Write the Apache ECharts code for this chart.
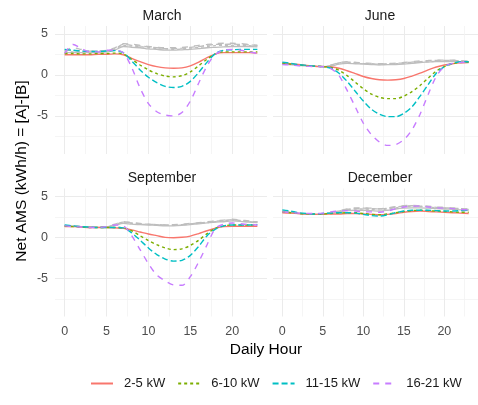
<!DOCTYPE html>
<html>
<head>
<meta charset="utf-8">
<script src="https://cdn.jsdelivr.net/npm/echarts@6/dist/echarts.min.js"></script>
<style>
  html, body { margin: 0; padding: 0; background: #fff; }
  #chart { width: 478px; height: 405px; }
</style>
</head>
<body>
<div id="chart"></div>
<script>
// Hour of day
const hours = [0,1,2,3,4,5,6,7,8,9,10,11,12,13,14,15,16,17,18,19,20,21,22,23];

const seriesNames = ['2-5 kW', '6-10 kW', '11-15 kW', '16-21 kW'];
const months = ['March', 'June', 'September', 'December'];
const xTickLabels = [0, 5, 10, 15, 20];
const xMinorTicks = [2.5, 7.5, 12.5, 17.5, 22.5];
const yTickLabels = [-5, 0, 5];
const yMinorTicks = [-7.5, -2.5, 2.5];

// March, net AMS by size class
const marSmall  = [2.45,2.45,2.45,2.45,2.5,2.5,2.55,2.45,2.0,1.6,1.25,1.0,0.85,0.8,0.85,1.1,1.55,2.1,2.55,2.7,2.7,2.7,2.7,2.65];
const marMid    = [2.6,2.6,2.55,2.55,2.6,2.6,2.65,2.55,1.9,1.2,0.6,0.15,-0.15,-0.25,-0.1,0.35,1.1,1.9,2.55,2.8,2.8,2.8,2.8,2.8];
const marLarge  = [3.1,3.0,2.9,2.85,2.85,2.9,2.95,2.7,1.7,0.6,-0.3,-0.95,-1.4,-1.55,-1.4,-0.8,0.3,1.55,2.6,3.0,3.05,3.1,3.1,3.1];
const marXLarge = [2.6,3.7,3.2,2.8,2.8,3.0,3.0,2.7,0.9,-1.6,-3.5,-4.5,-4.9,-5.0,-4.6,-3.2,-1.0,1.1,2.5,3.0,3.1,3.0,2.8,2.6];
const marBase1  = [2.7,2.7,2.7,2.7,2.75,2.8,3.0,3.45,3.35,3.3,3.15,3.1,3.0,3.0,3.05,3.1,3.2,3.3,3.35,3.4,3.45,3.45,3.45,3.4];
const marBase2  = [2.8,2.8,2.75,2.75,2.8,2.85,3.1,3.6,3.5,3.45,3.3,3.2,3.15,3.1,3.15,3.25,3.35,3.45,3.55,3.6,3.6,3.6,3.55,3.5];
const marBase3  = [3.0,2.95,2.9,2.9,2.9,2.95,3.2,3.7,3.6,3.5,3.4,3.3,3.2,3.2,3.25,3.35,3.45,3.6,3.7,3.7,3.75,3.7,3.65,3.6];
const marBase4  = [2.9,3.3,3.1,2.9,2.9,3.0,3.3,3.8,3.75,3.6,3.45,3.35,3.3,3.3,3.35,3.45,3.6,3.7,3.8,3.85,3.85,3.8,3.7,3.6];

// June
const junSmall  = [1.45,1.35,1.25,1.15,1.05,1.0,0.95,0.8,0.5,0.15,-0.2,-0.45,-0.6,-0.65,-0.6,-0.45,-0.15,0.2,0.6,0.95,1.2,1.35,1.45,1.5];
const junMid    = [1.4,1.3,1.2,1.1,1.05,1.0,0.9,0.55,-0.1,-0.9,-1.7,-2.35,-2.75,-2.9,-2.9,-2.6,-2.05,-1.3,-0.4,0.45,1.0,1.35,1.5,1.55];
const junLarge  = [1.55,1.4,1.25,1.15,1.05,1.0,0.8,0.2,-0.8,-2.0,-3.2,-4.2,-4.8,-5.1,-5.1,-4.7,-3.9,-2.6,-1.2,0.2,1.0,1.4,1.6,1.6];
const junXLarge = [1.25,1.2,1.1,1.05,1.0,1.0,0.75,-0.1,-1.9,-3.9,-5.9,-7.3,-8.2,-8.6,-8.5,-7.9,-6.7,-4.8,-2.4,-0.2,1.0,1.4,1.5,1.55];
const junBase1  = [1.3,1.25,1.15,1.1,1.05,1.0,1.05,1.3,1.4,1.35,1.3,1.25,1.2,1.25,1.25,1.3,1.4,1.5,1.55,1.6,1.6,1.65,1.6,1.55];
const junBase2  = [1.35,1.25,1.2,1.1,1.05,1.0,1.1,1.4,1.5,1.4,1.35,1.3,1.25,1.3,1.35,1.4,1.45,1.55,1.6,1.65,1.7,1.7,1.65,1.6];
const junBase3  = [1.4,1.3,1.2,1.1,1.05,1.0,1.15,1.45,1.55,1.5,1.4,1.35,1.3,1.35,1.4,1.45,1.55,1.6,1.7,1.75,1.75,1.75,1.7,1.65];
const junBase4  = [1.3,1.25,1.15,1.1,1.05,1.05,1.2,1.5,1.6,1.5,1.45,1.4,1.35,1.4,1.4,1.5,1.6,1.7,1.75,1.8,1.8,1.8,1.75,1.65];

// September
const sepSmall  = [1.3,1.3,1.25,1.2,1.2,1.2,1.15,1.1,0.9,0.65,0.4,0.2,0.0,-0.05,0.0,0.15,0.45,0.8,1.1,1.3,1.35,1.35,1.35,1.35];
const sepMid    = [1.35,1.3,1.25,1.2,1.2,1.2,1.2,1.15,0.8,0.2,-0.4,-0.9,-1.3,-1.5,-1.4,-1.0,-0.35,0.45,1.1,1.4,1.5,1.5,1.5,1.5];
const sepLarge  = [1.5,1.4,1.3,1.25,1.2,1.2,1.2,1.15,0.55,-0.35,-1.3,-2.1,-2.65,-2.9,-2.8,-2.2,-1.1,0.2,1.0,1.4,1.5,1.5,1.5,1.55];
const sepXLarge = [1.4,1.3,1.25,1.2,1.2,1.3,1.5,1.4,0.2,-1.5,-3.2,-4.6,-5.3,-5.8,-5.85,-4.8,-3.0,-0.9,1.1,1.6,1.75,1.65,1.55,1.5];
const sepBase1  = [1.4,1.35,1.3,1.25,1.2,1.25,1.45,1.7,1.6,1.55,1.5,1.45,1.4,1.4,1.45,1.55,1.65,1.75,1.85,1.9,2.0,1.95,1.85,1.8];
const sepBase2  = [1.4,1.35,1.3,1.25,1.2,1.25,1.5,1.8,1.7,1.6,1.55,1.5,1.45,1.45,1.5,1.6,1.7,1.8,1.9,2.0,2.1,2.0,1.9,1.85];
const sepBase3  = [1.45,1.4,1.3,1.25,1.2,1.3,1.55,1.85,1.75,1.65,1.6,1.55,1.5,1.5,1.55,1.65,1.75,1.85,1.95,2.05,2.15,2.05,1.95,1.9];
const sepBase4  = [1.4,1.35,1.3,1.25,1.25,1.3,1.6,1.9,1.8,1.7,1.6,1.55,1.5,1.55,1.6,1.7,1.8,1.9,2.0,2.1,2.2,2.1,2.0,1.9];

// December
const decSmall  = [3.0,2.95,2.9,2.85,2.8,2.8,2.85,2.85,2.9,2.9,2.85,2.8,2.75,2.8,2.9,3.05,3.15,3.2,3.15,3.1,3.05,3.0,2.95,2.9];
const decMid    = [3.1,3.0,2.9,2.85,2.85,2.85,2.9,2.95,3.0,3.0,2.9,2.8,2.75,2.85,3.0,3.15,3.25,3.3,3.25,3.2,3.15,3.1,3.05,3.05];
const decLarge  = [3.35,3.2,3.0,2.9,2.85,2.9,2.95,3.0,3.0,2.95,2.8,2.65,2.6,2.75,3.0,3.2,3.3,3.3,3.3,3.25,3.2,3.2,3.25,3.3];
const decXLarge = [3.1,3.0,2.95,2.9,2.9,2.95,3.1,3.2,3.25,3.2,3.1,3.1,3.05,3.2,3.5,3.7,3.8,3.8,3.7,3.6,3.55,3.5,3.4,3.35];
const decBase1  = [3.1,3.0,2.9,2.8,2.8,2.85,2.95,3.1,3.25,3.3,3.3,3.25,3.2,3.3,3.45,3.55,3.6,3.6,3.55,3.5,3.45,3.4,3.35,3.3];
const decBase2  = [3.15,3.05,2.9,2.8,2.8,2.85,3.0,3.2,3.35,3.45,3.45,3.4,3.35,3.45,3.6,3.7,3.75,3.75,3.7,3.6,3.55,3.5,3.45,3.4];
const decBase3  = [3.2,3.05,2.9,2.8,2.8,2.85,3.0,3.2,3.4,3.5,3.55,3.5,3.45,3.55,3.7,3.8,3.85,3.8,3.75,3.65,3.6,3.55,3.5,3.45];
const decBase4  = [3.2,3.1,2.95,2.85,2.8,2.9,3.05,3.25,3.45,3.6,3.6,3.55,3.5,3.6,3.75,3.85,3.9,3.85,3.8,3.7,3.65,3.6,3.5,3.45];

const monthSeries = [
  [marSmall, marMid, marLarge, marXLarge],
  [junSmall, junMid, junLarge, junXLarge],
  [sepSmall, sepMid, sepLarge, sepXLarge],
  [decSmall, decMid, decLarge, decXLarge]
];
const monthBase = [
  [marBase1, marBase2, marBase3, marBase4],
  [junBase1, junBase2, junBase3, junBase4],
  [sepBase1, sepBase2, sepBase3, sepBase4],
  [decBase1, decBase2, decBase3, decBase4]
];

// Styling
const colors = ['#F8766D', '#7CAE00', '#00BFC4', '#C77CFF'];
const dashes = ['solid', [3, 3], [6, 3], [6, 6]];
const baseColor = '#BEBEBE';
const font = '"Liberation Sans", Arial, Helvetica, sans-serif';

// Panel layout (pixels)
const panelW = 212, panelH = 128;
const panelLeft = [55, 273];
const panelTop = [26, 188.5];

const grids = [], xAxes = [], yAxes = [], series = [], titles = [];

months.forEach((m, p) => {
  const col = p % 2, row = Math.floor(p / 2);
  grids.push({ left: panelLeft[col], top: panelTop[row], width: panelW, height: panelH, containLabel: false });

  const xa = xAxes.length;
  xAxes.push({
    gridIndex: p, type: 'value', min: -1.15, max: 24.15,
    axisLine: { show: false },
    axisTick: { show: false, customValues: xTickLabels },
    axisLabel: { show: row === 1, customValues: xTickLabels, color: '#4D4D4D', fontSize: 12.5, fontFamily: font, margin: 9 },
    splitLine: { show: true, lineStyle: { color: '#EBEBEB', width: 1 } }
  });
  xAxes.push({
    gridIndex: p, type: 'value', min: -1.15, max: 24.15,
    axisLine: { show: false },
    axisTick: { show: false, customValues: xMinorTicks },
    axisLabel: { show: false, customValues: xMinorTicks },
    splitLine: { show: true, lineStyle: { color: '#F3F3F3', width: 0.8 } }
  });
  const ya = yAxes.length;
  yAxes.push({
    gridIndex: p, type: 'value', min: -9.65, max: 5.95,
    axisLine: { show: false },
    axisTick: { show: false, customValues: yTickLabels },
    axisLabel: { show: col === 0, customValues: yTickLabels, color: '#4D4D4D', fontSize: 12.5, fontFamily: font, margin: 7 },
    splitLine: { show: true, lineStyle: { color: '#EBEBEB', width: 1 } }
  });
  yAxes.push({
    gridIndex: p, type: 'value', min: -9.65, max: 5.95,
    axisLine: { show: false },
    axisTick: { show: false, customValues: yMinorTicks },
    axisLabel: { show: false, customValues: yMinorTicks },
    splitLine: { show: true, lineStyle: { color: '#F3F3F3', width: 0.8 } }
  });

  monthBase[p].forEach((vals, k) => {
    series.push({
      name: 'baseline ' + seriesNames[k], type: 'line', xAxisIndex: xa, yAxisIndex: ya,
      data: hours.map((h, i) => [h, vals[i]]),
      showSymbol: false, symbol: 'none', smooth: 0.3, silent: true, z: 2,
      lineStyle: { color: baseColor, width: 1.3, type: dashes[k] }
    });
  });
  monthSeries[p].forEach((vals, k) => {
    series.push({
      name: seriesNames[k], type: 'line', xAxisIndex: xa, yAxisIndex: ya,
      data: hours.map((h, i) => [h, vals[i]]),
      showSymbol: false, symbol: 'none', smooth: 0.3, silent: true, z: 3,
      color: colors[k],
      lineStyle: { color: colors[k], width: 1.4, type: dashes[k] }
    });
  });

  titles.push({
    text: m, left: panelLeft[col] + panelW / 2 + (col === 1 ? -4 : -4), top: panelTop[row] - 22, textAlign: 'center',
    textStyle: { fontSize: 14, fontWeight: 'normal', color: '#1A1A1A', fontFamily: font }
  });
});

const chart = echarts.init(document.getElementById('chart'), null, { renderer: 'canvas' });
chart.setOption({
  backgroundColor: '#ffffff',
  animation: false,
  title: titles,
  grid: grids,
  xAxis: xAxes,
  yAxis: yAxes,
  series: series,
  legend: {
    data: seriesNames, left: 85, top: 372, itemWidth: 22, itemHeight: 12, itemGap: 12,
    itemStyle: { opacity: 0 },
    textStyle: { fontSize: 13, color: '#1A1A1A', fontFamily: font, padding: [0, 0, 0, 6] }
  },
  graphic: [
    { type: 'text', x: 22, y: 171, rotation: Math.PI / 2,
      style: { text: 'Net AMS (kWh/h) = [A]-[B]', fill: '#000', font: '15.5px ' + font, textAlign: 'center', textVerticalAlign: 'middle' } },
    { type: 'text', x: 266, y: 350,
      style: { text: 'Daily Hour', fill: '#000', font: '15.5px ' + font, textAlign: 'center', textVerticalAlign: 'middle' } }
  ]
});
</script>
</body>
</html>
